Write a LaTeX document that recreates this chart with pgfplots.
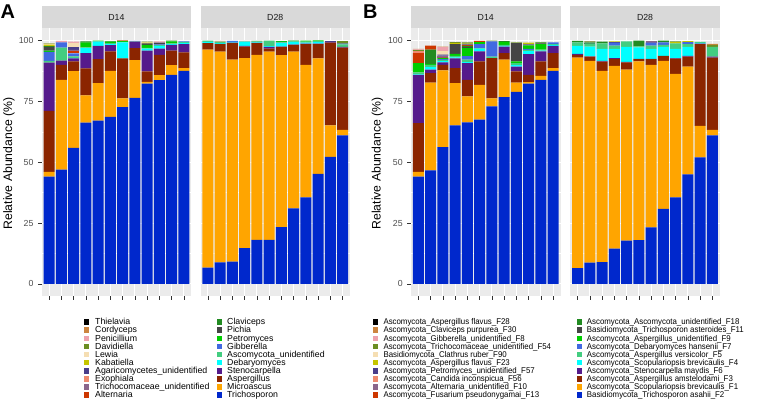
\documentclass[border=0pt]{standalone}
\usepackage{fontspec}
\setmainfont{Liberation Sans}
\newfontfamily\narrowfont[FakeStretch=0.94]{Liberation Sans}
\usepackage{pgfplots}
\pgfplotsset{compat=1.18}
\usepackage{pgfplotstable}

% palette, k1 = bottom of the stack ... k20 = top
\definecolor{k1}{HTML}{0028CC}
\definecolor{k2}{HTML}{FFA500}
\definecolor{k3}{HTML}{8B2500}
\definecolor{k4}{HTML}{551A8B}
\definecolor{k5}{HTML}{00FFFF}
\definecolor{k6}{HTML}{43CD80}
\definecolor{k7}{HTML}{4169E1}
\definecolor{k8}{HTML}{00CD00}
\definecolor{k9}{HTML}{454545}
\definecolor{k10}{HTML}{228B22}
\definecolor{k11}{HTML}{CD3700}
\definecolor{k12}{HTML}{8B668B}
\definecolor{k13}{HTML}{EE8A6E}
\definecolor{k14}{HTML}{483D8B}
\definecolor{k15}{HTML}{C5C500}
\definecolor{k16}{HTML}{F5DEB3}
\definecolor{k17}{HTML}{6B8E23}
\definecolor{k18}{HTML}{EEA2AD}
\definecolor{k19}{HTML}{CD853F}
\definecolor{k20}{HTML}{000000}
\definecolor{panelbg}{HTML}{EBEBEB}
\definecolor{stripbg}{HTML}{D9D9D9}
\definecolor{striptext}{HTML}{1A1A1A}
\definecolor{ticktext}{HTML}{4D4D4D}
\definecolor{tickcol}{HTML}{333333}

% genus level (panel A)
\pgfplotstableread{
x Tri Mic Asp Ste Deb Asc Gib Pet Pic Cla Alt Tco Exo Aga Kab Lew Dav Pen Cor Thi
1 44.1 1.9 25.1 19.8 0 0.7 3.7 0.5 1.6 0.3 0 0 0 0 0.6 0.4 0.2 0 0 0
2 46.9 36.9 6.2 1.7 0 5.4 2.1 0 0 0 0 0 0 0 0 0 0 0.6 0 0
3 55.9 31.5 4.0 1.2 0.3 0.6 1.2 0 0 0 0.9 0.5 0 1.3 0 1.6 0 0.5 0 0
4 66.3 11.1 11.1 6.3 2.1 0.3 0 2.0 0.1 0.3 0 0 0 0 0 0 0 0 0 0
5 67.1 15.4 9.8 5.5 1.7 0.2 0 0.2 0 0 0 0 0 0 0 0 0 0 0 0
6 68.6 18.9 8.0 2.6 0.4 0.4 0 0.6 0 0.2 0 0 0 0 0 0 0 0 0 0
7 72.6 3.6 16.4 0 6.6 0.2 0 0.4 0 0 0 0 0.2 0 0 0 0 0 0 0
8 76.4 15.5 5.0 2.6 0 0.1 0.2 0 0 0 0 0 0 0 0 0 0 0 0 0
9 82.3 0.7 4.3 8.5 0.9 0.3 0 1.2 0.6 0 0 0 0 0 0.3 0.2 0.2 0 0 0
10 83.7 2.1 8.3 2.6 1.1 0.3 0.3 0 0.5 0 0 0.3 0 0 0 0.2 0 0.2 0 0
11 85.9 4.0 5.9 2.4 0.3 0.3 0 0.8 0 0.3 0 0 0 0 0 0 0 0 0 0
12 87.5 1.1 6.5 3.4 0.5 0.4 0.2 0 0 0 0 0 0 0 0 0 0 0 0 0
}\gAd
\pgfplotstableread{
x Tri Mic Asp Ste Deb Asc Gib Pet Pic Cla Alt Tco Exo Aga Kab Lew Dav Pen Cor Thi
1 6.7 89.5 2.7 0 0.5 0.5 0 0 0 0 0 0 0 0 0 0 0 0 0 0
2 8.9 86.5 3.2 0 0.3 0.6 0 0 0 0 0 0 0.3 0 0 0 0 0 0 0
3 9.2 82.9 6.8 0.2 0.3 0 0.4 0 0 0 0 0 0 0 0 0 0 0 0 0
4 14.7 78.0 4.8 0.3 1.7 0.1 0 0 0 0 0 0 0.2 0 0 0 0 0 0 0
5 18.1 76.0 4.8 0.1 0.2 0.4 0 0 0 0.2 0 0 0 0 0 0 0 0 0 0
6 18.1 77.3 1.3 0.7 0.3 2.2 0 0 0 0 0 0 0 0 0 0 0 0 0 0
7 23.3 70.7 3.4 0.1 1.4 0.3 0.2 0.3 0 0 0.2 0 0 0 0 0 0 0 0 0
8 31.0 64.4 2.8 0.1 1.1 0.2 0 0.2 0 0.1 0 0 0 0 0 0 0 0 0 0
9 35.6 54.4 8.5 0.2 0.4 0.4 0 0.4 0 0 0 0 0 0 0 0 0 0 0 0
10 45.2 47.4 5.9 0.2 0.7 0.3 0 0.3 0 0 0 0 0 0 0 0 0 0 0 0
11 52.2 12.9 34.0 0.2 0 0 0 0 0 0 0 0 0 0.3 0 0 0 0 0 0
12 61.0 2.3 33.8 0.3 0 1.0 0.4 0 0 0 0 0 0 0 0.2 0 0.6 0 0 0
}\gBd

% OTU level (panel B)
\pgfplotstableread{
x F2 F1 F3 F6 F4 F5 F7 F9 F11 F18 F13 F10 F56 F57 F23 F90 F54 F8 F30 F28
1 44.1 1.9 20.0 19.9 0.2 0.8 0 3.8 0 0 4.1 0 0.8 0 0 0 0.4 0.3 0.2 0
2 46.6 36.1 3.9 1.4 1.0 1.0 0 0.3 0 5.9 1.7 0 0 0 0 0 0 0 0 0
3 56.2 31.5 2.3 1.0 0.5 0.5 0.3 0.4 0 0 0.3 0.8 0 0.4 0 1.3 0 1.8 0.2 0
4 65.1 17.4 6.1 4.0 0.5 0.6 0 0.8 4.0 0 0 0 0 0 0.5 0 0.3 0 0 0
5 66.4 10.6 6.8 6.9 0.4 1.0 1.5 3.3 0.4 0.5 0.3 0 0 0.3 0.3 0 0.5 0 0 0
6 67.5 14.3 9.6 4.1 1.1 0.3 1.6 0.8 0 0 0.5 0 0 0 0 0 0 0 0 0
7 72.9 3.3 16.5 0 0.2 0.5 6.2 0 0 0 0 0 0 0 0 0 0.3 0 0 0
8 76.7 15.4 2.7 2.7 0.3 0.4 0 1.2 0 0.3 0 0 0 0 0 0 0 0 0 0
9 78.9 3.8 4.6 2.0 0.6 0.8 0 0.7 7.5 0 0 0 0 0 0 0 0.3 0 0 0
10 82.3 0.6 3.0 8.5 1.2 0.5 0.4 1.5 0 0 0 0 0 0.4 0.7 0 0 0 0 0
11 83.8 1.7 5.9 4.1 0.3 0.4 0 2.3 0.3 0.3 0 0 0 0 0 0 0.2 0 0 0
12 87.5 1.1 6.2 3.0 0.4 0.3 0.7 0 0 0 0 0 0 0 0 0 0 0 0 0
}\oAd
\pgfplotstableread{
x F2 F1 F3 F6 F4 F5 F7 F9 F11 F18 F13 F10 F56 F57 F23 F90 F54 F8 F30 F28
1 6.5 86.5 1.1 0.4 3.3 1.4 0 0 0 0.6 0 0 0 0 0 0 0 0 0 0
2 8.8 82.8 1.8 0.1 4.0 1.3 0 0 0.3 0.4 0 0 0 0 0 0 0 0 0.2 0
3 9.0 78.5 3.8 0.3 4.9 2.3 0 0 0 0.7 0 0 0 0 0 0 0 0 0 0
4 14.5 75.1 2.8 0.3 3.8 1.4 1.2 0 0 0 0 0 0 0.3 0.2 0 0 0 0 0
5 17.8 70.2 3.0 0.2 6.2 2.2 0 0 0 0 0 0 0 0 0 0 0 0 0 0
6 18.0 73.4 0.9 0.1 4.8 0.4 0 0 0 2.3 0 0 0 0 0 0 0 0 0 0
7 23.2 66.8 2.3 0.1 4.1 1.4 1.2 0 0 0 0 0.5 0 0 0 0.3 0 0 0 0
8 30.8 60.8 2.1 0 3.7 0.8 1.0 0 0 0.7 0 0 0 0 0 0 0 0 0 0
9 35.5 50.8 6.2 0.2 3.8 2.3 0 0 0 0 0 0 0 0 0.5 0 0.3 0 0 0
10 45.0 44.3 4.1 0.3 3.7 1.1 0.8 0 0 0 0 0 0 0 0.4 0 0 0 0 0
11 52.0 12.9 33.6 0.2 0.3 0.4 0 0 0 0 0 0 0 0 0 0 0 0 0 0
12 61.0 2.3 29.7 0.4 0 4.0 0 0 0 0 0 0 0 0 0 0 0.8 0 0.4 0
}\oBd

\pgfplotsset{
  facet/.style={
    scale only axis, width=149.5bp, height=267.8bp, anchor=south west,
    xmin=0.4, xmax=12.6, ymin=-5, ymax=105,
    ybar stacked, bar width=0.9,
    axis background/.style={fill=panelbg},
    axis line style={draw=none},
    xtick={1,...,12}, xticklabels={},
    ytick={0,25,50,75,100},
    minor ytick={12.5,37.5,62.5,87.5},
    grid=both,
    major grid style={white, line width=0.9bp},
    minor grid style={white, line width=0.45bp},
    tick align=outside, major tick length=3.8bp, minor tick length=0pt,
    tick style={color=tickcol, line width=0.6bp},
    xtick pos=bottom, ytick pos=left,
    yticklabel style={font=\fontsize{8.8}{10}\selectfont, text=ticktext, xshift=-1bp},
    /pgf/number format/assume math mode=true,
  },
  noy/.style={yticklabels={}, ytick style={draw=none}},
}

% one facet: left x, table, strip text, extra options
\newcommand\facet[4]{%
  \fill[stripbg] (#1,373.7bp) rectangle ++(149.5bp,21.8bp);
  \node[font=\fontsize{8.8}{10}\selectfont, text=striptext] at ({#1+74.75bp},384.6bp) {#3};
  \begin{axis}[facet, at={(#1,105.9bp)}, #4]
    \pgfplotsinvokeforeach{1,...,20}{
      \addplot[fill=k##1, draw=none] table[x index=0, y index=##1]{#2};
    }
  \end{axis}}

% one legend column: key x, text x, font, entries
\newcommand\legcol[4]{%
  \foreach \n/\c [count=\i from 0] in {#4} {
    \fill[\c] (#1,{77bp-8.09bp*\i}) rectangle ++(4.8bp,5.6bp);
    \node[anchor=mid west, inner sep=0pt, font=#3] at (#2,{79.8bp-8.09bp*\i}) {\n};
  }}

\begin{document}
\begin{tikzpicture}
\useasboundingbox (0,0) rectangle (760bp,402bp);

\facet{41.7bp}{\gAd}{D14}{}
\facet{200.5bp}{\gBd}{D28}{noy}
\facet{411bp}{\oAd}{D14}{}
\facet{570.3bp}{\oBd}{D28}{noy}

\node[rotate=90, font=\fontsize{12.3}{14}\selectfont] at (9bp,238.5bp) {Relative Abundance (\%)};
\node[rotate=90, font=\fontsize{12.3}{14}\selectfont] at (377.5bp,238.5bp) {Relative Abundance (\%)};

\node[anchor=base west, inner sep=0pt, font=\bfseries\fontsize{20}{24}\selectfont] at (0.5bp,383.5bp) {A};
\node[anchor=base west, inner sep=0pt, font=\bfseries\fontsize{20}{24}\selectfont] at (363bp,383.5bp) {B};

\legcol{84bp}{95bp}{\fontsize{8.8}{10}\selectfont}{
  Thielavia/k20, Cordyceps/k19, Penicillium/k18, Davidiella/k17, Lewia/k16,
  Kabatiella/k15, Agaricomycetes\_unidentified/k14, Exophiala/k13,
  Trichocomaceae\_unidentified/k12, Alternaria/k11}
\legcol{217bp}{227bp}{\fontsize{8.8}{10}\selectfont}{
  Claviceps/k10, Pichia/k9, Petromyces/k8, Gibberella/k7,
  Ascomycota\_unidentified/k6, Debaryomyces/k5, Stenocarpella/k4,
  Aspergillus/k3, Microascus/k2, Trichosporon/k1}
\legcol{373.3bp}{383.3bp}{\narrowfont\fontsize{8.4}{10}\selectfont}{
  Ascomycota\_Aspergillus flavus\_F28/k20,
  Ascomycota\_Claviceps purpurea\_F30/k19,
  Ascomycota\_Gibberella\_unidentified\_F8/k18,
  Ascomycota\_Trichocomaceae\_unidentified\_F54/k17,
  Basidiomycota\_Clathrus ruber\_F90/k16,
  Ascomycota\_Aspergillus flavus\_F23/k15,
  Ascomycota\_Petromyces\_unidentified\_F57/k14,
  Ascomycota\_Candida inconspicua\_F56/k13,
  Ascomycota\_Alternaria\_unidentified\_F10/k12,
  Ascomycota\_Fusarium pseudonygamai\_F13/k11}
\legcol{576.7bp}{586.7bp}{\narrowfont\fontsize{8.4}{10}\selectfont}{
  Ascomycota\_Ascomycota\_unidentified\_F18/k10,
  Basidiomycota\_Trichosporon asteroides\_F11/k9,
  Ascomycota\_Aspergillus\_unidentified\_F9/k8,
  Ascomycota\_Debaryomyces hansenii\_F7/k7,
  Ascomycota\_Aspergillus versicolor\_F5/k6,
  Ascomycota\_Scopulariopsis brevicaulis\_F4/k5,
  Ascomycota\_Stenocarpella maydis\_F6/k4,
  Ascomycota\_Aspergillus amstelodami\_F3/k3,
  Ascomycota\_Scopulariopsis brevicaulis\_F1/k2,
  Basidiomycota\_Trichosporon asahii\_F2/k1}
\end{tikzpicture}
\end{document}
